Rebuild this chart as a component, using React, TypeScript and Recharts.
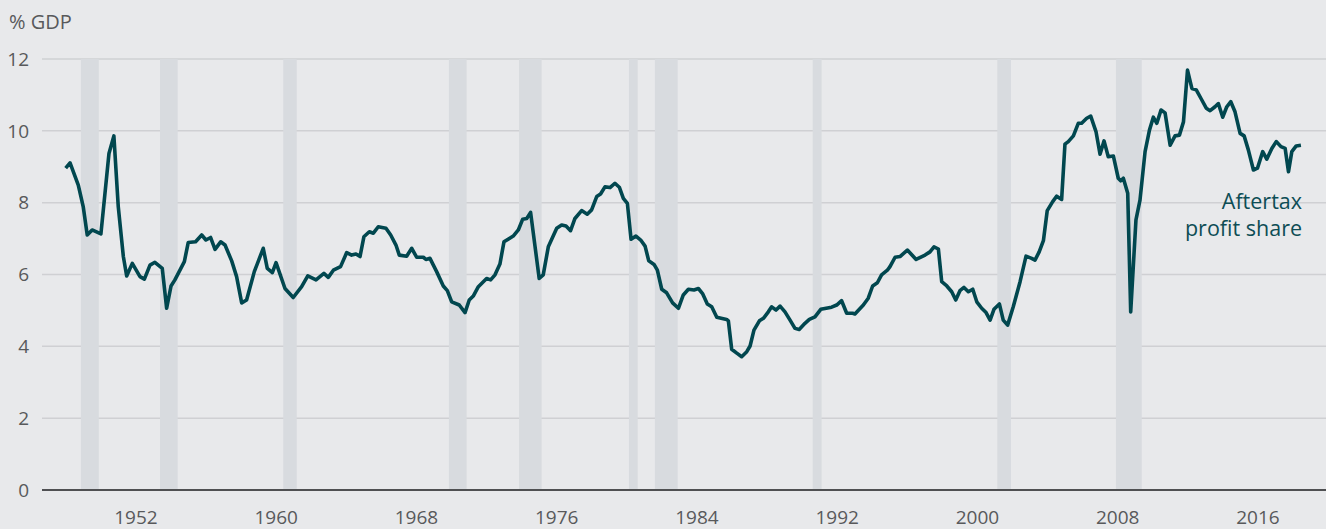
import React from 'react';
import { LineChart, Line, XAxis, YAxis, CartesianGrid, ReferenceArea } from 'recharts';

const years = [
  1947.99, 1948.24, 1948.71, 1948.99, 1949.22, 1949.5, 1950.0, 1950.46, 1950.74, 1950.99,
  1951.28, 1951.47, 1951.79, 1952.23, 1952.48, 1952.8, 1953.08, 1953.5, 1953.75, 1954.0,
  1954.22, 1954.76, 1954.98, 1955.4, 1955.75, 1955.99, 1956.26, 1956.51, 1956.83, 1957.08,
  1957.46, 1957.74, 1958.03, 1958.31, 1958.75, 1959.26, 1959.49, 1959.78, 1959.99, 1960.5,
  1960.97, 1961.45, 1961.8, 1962.27, 1962.72, 1962.97, 1963.26, 1963.67, 1964.02, 1964.3,
  1964.55, 1964.78, 1965.0, 1965.31, 1965.54, 1965.82, 1966.26, 1966.53, 1966.83, 1967.02,
  1967.44, 1967.73, 1968.01, 1968.39, 1968.54, 1968.77, 1969.15, 1969.53, 1969.76, 1970.01,
  1970.44, 1970.77, 1971.01, 1971.24, 1971.53, 1972.0, 1972.23, 1972.48, 1972.76, 1972.99,
  1973.52, 1973.81, 1974.06, 1974.29, 1974.51, 1975.0, 1975.23, 1975.52, 1976.0, 1976.28,
  1976.53, 1976.79, 1977.04, 1977.42, 1977.74, 1977.99, 1978.28, 1978.5, 1978.75, 1979.04,
  1979.32, 1979.57, 1979.8, 1980.03, 1980.24, 1980.52, 1980.79, 1981.04, 1981.25, 1981.55,
  1981.74, 1981.99, 1982.27, 1982.61, 1982.94, 1983.22, 1983.51, 1983.83, 1984.08, 1984.33,
  1984.59, 1984.84, 1985.13, 1985.69, 1985.79, 1985.98, 1986.27, 1986.55, 1986.84, 1987.03,
  1987.25, 1987.56, 1987.79, 1988.07, 1988.26, 1988.51, 1988.74, 1989.02, 1989.31, 1989.59,
  1989.83, 1990.16, 1990.41, 1990.73, 1991.06, 1991.68, 1991.97, 1992.25, 1992.54, 1992.88,
  1993.01, 1993.49, 1993.77, 1994.02, 1994.29, 1994.53, 1994.86, 1995.01, 1995.3, 1995.58,
  1996.0, 1996.5, 1997.01, 1997.29, 1997.52, 1997.77, 1997.96, 1998.25, 1998.53, 1998.76,
  1999.0, 1999.23, 1999.48, 1999.73, 1999.96, 2000.24, 2000.49, 2000.72, 2000.94, 2001.25,
  2001.47, 2001.72, 2002.04, 2002.43, 2002.77, 2003.09, 2003.28, 2003.52, 2003.76, 2003.98,
  2004.29, 2004.52, 2004.8, 2004.99, 2005.18, 2005.47, 2005.75, 2005.94, 2006.23, 2006.46,
  2006.76, 2006.99, 2007.22, 2007.46, 2007.75, 2008.03, 2008.17, 2008.32, 2008.57, 2008.74,
  2009.04, 2009.27, 2009.56, 2009.81, 2010.03, 2010.23, 2010.47, 2010.7, 2010.99, 2011.27,
  2011.52, 2011.75, 2011.98, 2012.23, 2012.48, 2012.75, 2013.05, 2013.27, 2013.55, 2013.74,
  2013.99, 2014.22, 2014.45, 2014.69, 2014.98, 2015.21, 2015.45, 2015.74, 2015.97, 2016.27,
  2016.5, 2016.79, 2017.04, 2017.31, 2017.55, 2017.74, 2017.93, 2018.18, 2018.45,
];

const profitShare = [
  8.96, 9.11, 8.49, 7.89, 7.10, 7.24, 7.13, 9.37, 9.86, 7.89,
  6.50, 5.96, 6.31, 5.94, 5.87, 6.26, 6.34, 6.17, 5.06, 5.68,
  5.85, 6.36, 6.89, 6.91, 7.10, 6.96, 7.03, 6.70, 6.91, 6.82,
  6.38, 5.94, 5.21, 5.29, 6.08, 6.73, 6.17, 6.05, 6.33, 5.61,
  5.36, 5.66, 5.96, 5.85, 6.03, 5.92, 6.12, 6.22, 6.61, 6.54,
  6.57, 6.50, 7.05, 7.19, 7.15, 7.33, 7.29, 7.10, 6.82, 6.54,
  6.51, 6.73, 6.48, 6.48, 6.42, 6.45, 6.08, 5.68, 5.55, 5.24,
  5.15, 4.94, 5.29, 5.40, 5.66, 5.89, 5.85, 5.99, 6.29, 6.91,
  7.07, 7.24, 7.54, 7.56, 7.73, 5.89, 5.99, 6.77, 7.29, 7.38,
  7.35, 7.22, 7.56, 7.78, 7.68, 7.80, 8.17, 8.24, 8.44, 8.42,
  8.54, 8.43, 8.12, 7.98, 6.98, 7.07, 6.96, 6.79, 6.38, 6.28,
  6.12, 5.59, 5.49, 5.21, 5.06, 5.43, 5.59, 5.57, 5.61, 5.46,
  5.18, 5.10, 4.81, 4.75, 4.71, 3.92, 3.81, 3.71, 3.85, 4.01,
  4.45, 4.71, 4.78, 4.96, 5.10, 5.01, 5.12, 4.96, 4.73, 4.50,
  4.47, 4.64, 4.75, 4.82, 5.03, 5.09, 5.15, 5.27, 4.92, 4.92,
  4.90, 5.15, 5.34, 5.68, 5.77, 5.99, 6.12, 6.22, 6.48, 6.50,
  6.68, 6.42, 6.54, 6.63, 6.77, 6.71, 5.80, 5.68, 5.52, 5.29,
  5.55, 5.64, 5.52, 5.59, 5.24, 5.06, 4.94, 4.73, 5.03, 5.18,
  4.73, 4.59, 5.10, 5.80, 6.51, 6.45, 6.40, 6.63, 6.94, 7.78,
  8.03, 8.18, 8.09, 9.63, 9.70, 9.86, 10.21, 10.21, 10.35, 10.41,
  9.98, 9.35, 9.72, 9.28, 9.30, 8.68, 8.61, 8.68, 8.26, 4.96,
  7.52, 8.07, 9.42, 10.02, 10.38, 10.21, 10.58, 10.50, 9.60, 9.86,
  9.88, 10.25, 11.69, 11.18, 11.14, 10.90, 10.63, 10.56, 10.67, 10.76,
  10.38, 10.67, 10.81, 10.53, 9.93, 9.86, 9.47, 8.91, 8.96, 9.42,
  9.21, 9.51, 9.70, 9.56, 9.51, 8.86, 9.42, 9.58, 9.60,
];

const recessionStart = [1948.86, 1953.37, 1960.4, 1969.85, 1973.85, 1980.12, 1981.6, 1990.6, 2001.13, 2007.9];
const recessionEnd = [1949.88, 1954.38, 1961.17, 1970.86, 1975.14, 1980.62, 1982.9, 1991.11, 2001.91, 2009.37];

const xTicks = [1952, 1960, 1968, 1976, 1984, 1992, 2000, 2008, 2016];
const yTicks = [0, 2, 4, 6, 8, 10, 12];

const data = years.map((year, i) => ({ year, share: profitShare[i] }));

const FONT = '"Open Sans", "Noto Sans", sans-serif';

export default function App() {
  return (
    <div
      style={{
        position: 'absolute',
        left: 0,
        top: 0,
        width: 1326,
        height: 529,
        background: '#e8e9eb',
        fontFamily: FONT,
        overflow: 'hidden',
      }}
    >
      <LineChart width={1326} height={529} data={data} margin={{ top: 59, right: 0, bottom: 0, left: 0 }}>
        {recessionStart.map((s, i) => (
          <ReferenceArea
            key={i}
            x1={s}
            x2={recessionEnd[i]}
            y1={0}
            y2={12}
            fill="#d8dbdf"
            fillOpacity={1}
            stroke="none"
            ifOverflow="hidden"
          />
        ))}
        <CartesianGrid vertical={false} stroke="#cfd0d3" strokeWidth={1.5} />
        <XAxis
          dataKey="year"
          type="number"
          domain={[1946.64, 2019.88]}
          ticks={xTicks}
          interval={0}
          allowDataOverflow
          height={39}
          tickLine={false}
          tickSize={0}
          tickMargin={21}
          axisLine={{ stroke: '#4f5052', strokeWidth: 2 }}
          tick={{ fill: '#58595b', fontSize: 19, fontFamily: FONT }}
        />
        <YAxis
          type="number"
          domain={[0, 12]}
          ticks={yTicks}
          interval={0}
          width={42}
          axisLine={false}
          tickLine={false}
          tickSize={0}
          tickMargin={13}
          tick={{ fill: '#58595b', fontSize: 19, fontFamily: FONT }}
        />
        <Line
          dataKey="share"
          type="linear"
          stroke="#01474f"
          strokeWidth={3.6}
          strokeLinejoin="round"
          dot={false}
          activeDot={false}
          isAnimationActive={false}
        />
      </LineChart>
      <svg
        width={1326}
        height={529}
        style={{ position: 'absolute', left: 0, top: 0, pointerEvents: 'none' }}
      >
        <text x={9} y={29} fill="#58595b" fontSize={20} fontFamily={FONT}>
          % GDP
        </text>
        <text x={1302} y={209} fill="#0d4d55" fontSize={21.5} fontFamily={FONT} textAnchor="end">
          Aftertax
        </text>
        <text x={1302} y={236} fill="#0d4d55" fontSize={21.5} fontFamily={FONT} textAnchor="end">
          profit share
        </text>
      </svg>
    </div>
  );
}
